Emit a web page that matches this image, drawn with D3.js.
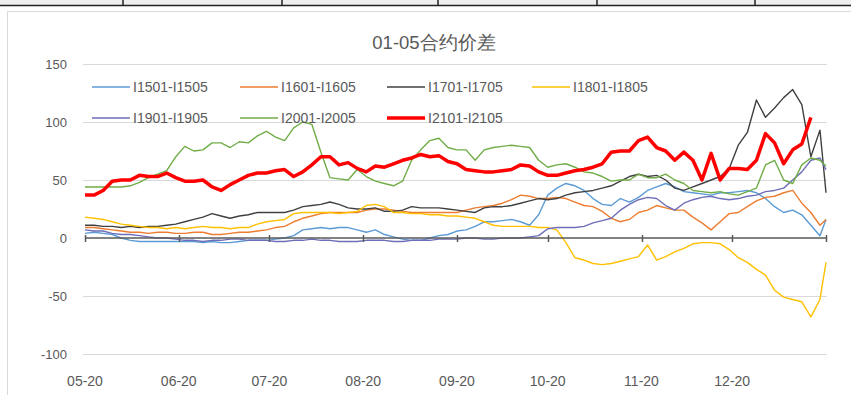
<!DOCTYPE html>
<html><head><meta charset="utf-8">
<script src="https://cdn.jsdelivr.net/npm/d3@7"></script>
<style>
body{margin:0;background:#fff;}
svg{display:block;font-family:"Liberation Sans",Arial,sans-serif;}
</style>
</head><body>
<svg id="c" width="851" height="395"></svg>
<script>
// ---- data ----
const title = "01-05合约价差";
const startDate = "2020-05-20";
// sample day offsets from 05-20 (every 3 days, last on 01-20)
const dayOffsets = d3.range(0, 244, 3).concat([245]);
const seriesNames = ["I1501-I1505","I1601-I1605","I1701-I1705","I1801-I1805","I1901-I1905","I2001-I2005","I2101-I2105"];
const seriesColors = ["#5B9BD5","#ED7D31","#404040","#FFC000","#6E6EB8","#70AD47","#FF0000"];
const s1501 = [4,5,4,3,0,-2,-3,-3,-3,-3, -3,-3,-3,-4,-3,-4,-4,-3,-2,-2, -2,-1,0,2,7,8,9,8,9,9, 7,5,7,3,1,-1,-2,-2,0,2, 3,6,7,10,14,14,15,16,14,11, 20,37,43,47,45,41,34,29,28,34, 31,35,41,44,47,44,40,39,38,37, 39,39,40,41,39,34,27,22,24,20,11,2,16];
const s1601 = [9,9,8,7,6,5,5,4,5,5, 4,4,5,5,3,3,4,5,5,6, 7,9,10,14,17,19,21,22,22,22, 22,24,25,25,24,23,22,22,22,22, 22,22,24,26,27,28,30,33,37,36, 34,34,35,34,31,28,27,23,17,14, 16,22,24,28,26,24,24,18,13,7, 14,21,22,27,32,35,36,39,41,30,22,11,16];
const s1701 = [11,11,10,10,9,10,9,10,10,11, 12,14,16,18,21,19,17,19,20,22, 22,22,22,24,27,28,29,31,29,26, 25,25,26,23,23,24,27,26,26,26, 25,24,23,22,26,27,27,28,30,32, 34,33,34,37,39,40,41,43,45,49, 53,55,53,54,50,43,41,44,47,50, 53,60,80,91,119,104,112,121,128,115,70,93,39];
const s1801 = [18,17,16,14,12,11,10,9,9,8, 9,8,9,10,9,9,8,9,9,12, 14,15,16,21,22,22,22,22,21,22, 23,28,29,27,22,22,21,21,20,20, 19,19,18,17,14,11,10,10,10,10, 9,9,7,-4,-17,-19,-22,-23,-22,-20, -18,-16,-6,-19,-16,-12,-9,-5,-4,-4, -5,-10,-17,-21,-27,-32,-45,-51,-53,-55,-68,-53,-21];
const s1901 = [7,6,6,4,3,3,2,1,0,0, -1,-2,-2,-3,-2,-2,-1,-1,-2,-2, -2,-3,-3,-2,-2,-1,-2,-2,-3,-3, -3,-2,-2,-2,-3,-3,-2,-2,-2,-1, -1,-1,0,0,-1,-1,0,0,0,1, 2,8,9,9,9,10,13,15,17,24, 29,33,35,34,28,24,30,33,35,36, 34,33,34,36,37,40,41,43,50,57,67,69,59];
const s2001 = [44,44,44,44,44,45,48,52,55,58, 70,79,75,76,82,82,78,83,82,88, 92,87,84,95,100,98,74,52,51,50, 59,53,49,47,45,49,67,76,84,86, 78,76,76,67,76,78,79,80,79,78, 67,61,63,64,61,57,56,53,49,50, 50,55,52,52,55,50,47,41,40,39, 40,38,37,40,43,63,67,50,47,63,69,67,62];
const s2101 = [37,37,41,49,50,50,54,53,53,56, 52,49,49,50,44,41,46,50,54,56, 56,58,59,53,57,63,70,70,63,65, 60,57,62,61,64,67,69,72,70,71, 66,64,59,58,57,57,58,59,63,62, 57,54,54,56,58,59,61,64,74,75, 75,84,87,78,75,67,74,67,50,73, 50,60,60,59,67,90,82,64,76,81,104,null,null];
const seriesValues = [s1501,s1601,s1701,s1801,s1901,s2001,s2101];
const yTicks = [-100,-50,0,50,100,150];
const monthTicks = ["2020-05-20","2020-06-20","2020-07-20","2020-08-20","2020-09-20","2020-10-20","2020-11-20","2020-12-20"];

// ---- drawing ----
const svg = d3.select("#c");
const parse = d3.timeParse("%Y-%m-%d");
const t0 = parse(startDate);
const dates = dayOffsets.map(d => d3.timeDay.offset(t0, d));
const x = d3.scaleTime().domain([t0, d3.timeDay.offset(t0, 245)]).range([85, 826]);
const y = d3.scaleLinear().domain([-100, 150]).range([354, 64]);
const txt = "#595959";

// top table strip
svg.append("rect").attr("x",0).attr("y",0).attr("width",851).attr("height",5).attr("fill","#efefef");
svg.append("line").attr("x1",0).attr("x2",851).attr("y1",5.5).attr("y2",5.5).attr("stroke","#222").attr("stroke-width",1.5);
[123,282,438,597,755].forEach(px => svg.append("line").attr("x1",px).attr("x2",px).attr("y1",0).attr("y2",5).attr("stroke","#222").attr("stroke-width",1.5));
// chart area border
svg.append("path").attr("d","M7.5,395 V11.5 H851").attr("fill","none").attr("stroke","#d9d9d9");

// title
svg.append("text").attr("x",434).attr("y",49).attr("text-anchor","middle")
  .attr("font-size",18.5).attr("fill",txt).text(title);

// gridlines + y labels
yTicks.forEach(v => {
  if (v !== 0) svg.append("line").attr("x1",83).attr("x2",827).attr("y1",y(v)+0.5).attr("y2",y(v)+0.5)
     .attr("stroke","#d9d9d9").attr("stroke-width",1);
  svg.append("text").attr("x",67).attr("y",y(v)+4.5).attr("text-anchor","end")
     .attr("font-size",13).attr("fill",txt).text(v);
});

// x labels
const fmt = d3.timeFormat("%m-%d");
monthTicks.forEach(s => {
  svg.append("text").attr("x",x(parse(s))).attr("y",386).attr("text-anchor","middle")
    .attr("font-size",14).attr("fill",txt).text(fmt(parse(s)));
});

// series
const line = d3.line().defined(d => d[1] !== null).x(d => x(d[0])).y(d => y(d[1]));
seriesValues.forEach((vals, i) => {
  svg.append("path").datum(vals.map((v, j) => [dates[j], v]))
    .attr("d", line).attr("fill","none").attr("stroke",seriesColors[i])
    .attr("stroke-width", i === 6 ? 3.5 : 1.4).attr("stroke-linejoin","round");
});

// zero axis line with ticks
svg.append("line").attr("x1",85).attr("x2",826).attr("y1",y(0)).attr("y2",y(0)).attr("stroke","#595959").attr("stroke-width",1.5);
monthTicks.concat(["2021-01-20"]).forEach(s => {
  const px = Math.round(x(parse(s))) + 0.5;
  svg.append("line").attr("x1",px).attr("x2",px).attr("y1",y(0)-3).attr("y2",y(0)+4).attr("stroke","#595959").attr("stroke-width",1.5);
});

// legend
const legX = [92, 240, 387, 532], legY = [87, 118];
seriesNames.forEach((n, i) => {
  const lx = legX[i % 4], ly = legY[Math.floor(i / 4)];
  svg.append("line").attr("x1",lx).attr("x2",lx+38).attr("y1",ly).attr("y2",ly)
    .attr("stroke",seriesColors[i]).attr("stroke-width", i === 6 ? 3.5 : 1.4);
  svg.append("text").attr("x",lx+41).attr("y",ly+5).attr("font-size",14).attr("fill",txt).text(n);
});
</script>
</body></html>
